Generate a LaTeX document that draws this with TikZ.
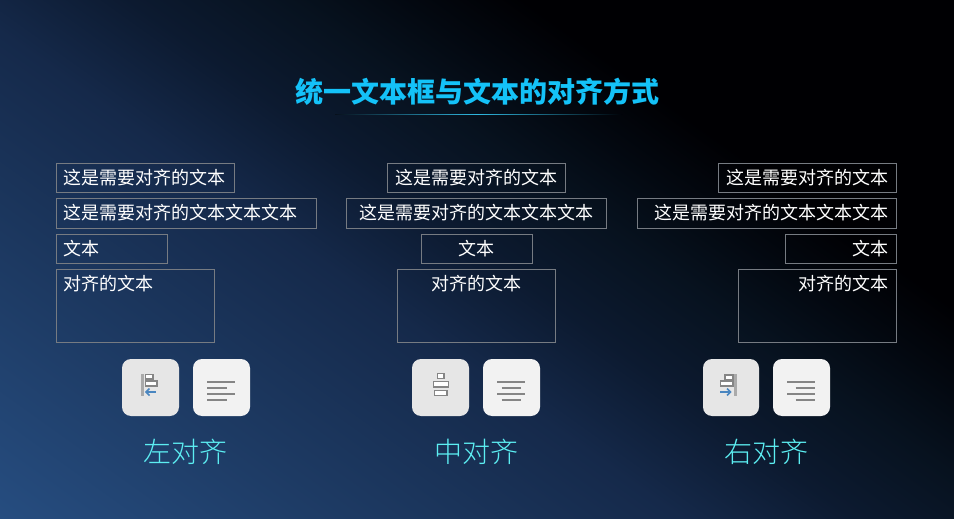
\documentclass[tikz,border=0pt]{standalone}
\usepackage{fontspec}
\setmainfont{Noto Sans CJK SC}
\newfontfamily\cjklight{Noto Sans CJK SC Light}
\newfontfamily\cjkbold{Noto Sans CJK SC Black}
\usetikzlibrary{calc}
\definecolor{c0}{HTML}{264D80}
\definecolor{c1}{HTML}{1E3C66}
\definecolor{c2}{HTML}{15294A}
\definecolor{c3}{HTML}{0C1A30}
\definecolor{c4}{HTML}{07121F}
\definecolor{c5}{HTML}{030810}
\definecolor{c6}{HTML}{000003}
\definecolor{boxline}{HTML}{767B82}
\definecolor{titlecol}{HTML}{14C2F8}
\definecolor{labelcol}{HTML}{5CEEF2}
\definecolor{iconcol}{HTML}{858585}
\definecolor{arrowcol}{HTML}{4A86C0}
\definecolor{ulcol}{HTML}{2FB8E0}
\definecolor{ulendl}{HTML}{07101C}
\definecolor{ulendr}{HTML}{000208}
\pgfdeclarehorizontalshading{bgshade}{100bp}{
 color(0bp)=(c0); color(50bp)=(c0); color(54.2bp)=(c1); color(59bp)=(c2); color(61.3bp)=(c3); color(63.4bp)=(c4); color(65bp)=(c5); color(66.5bp)=(c6); color(100bp)=(c6)}
\tikzset{
 x=1pt,y=-1pt,
 tbox/.style={draw=boxline,line width=0.9pt,inner sep=0pt},
 ttext/.style={text=white,inner sep=0pt,font=\fontsize{18}{18}\selectfont},
 iconline/.style={draw=iconcol,line width=2pt},
 iconrect/.style={draw=iconcol,line width=1.6pt,fill=white},
 iconbar/.style={draw=iconcol!70!white,line width=2.6pt},
 iconarrow/.style={draw=arrowcol,line width=1.6pt},
 grouplabel/.style={text=labelcol,inner sep=0pt,font=\fontsize{28}{28}\selectfont\cjklight},
}
% name, x1, y1, x2, y2
\newcommand{\tb}[5]{\node[tbox,minimum width=#4pt-#2pt,minimum height=#5pt-#3pt] (#1) at ({(#2+#4)/2},{(#3+#5)/2}) {};}
\begin{document}
\begin{tikzpicture}
\useasboundingbox (0,0) rectangle (954,519);
\begin{scope}
\clip (0,0) rectangle (954,519);
\shade[shading=bgshade,shading angle=54.46] (-1100,-581) rectangle (1100,1619);
\end{scope}

% title
\node[inner sep=0pt,text=titlecol,font=\fontsize{28}{28}\selectfont\cjkbold] (title) at (477,91.5) {统一文本框与文本的对齐方式};
\shade[left color=ulendl,right color=ulcol] (335,114.1) rectangle (477,114.9);
\shade[left color=ulcol,right color=ulendr] (477,114.1) rectangle (622,114.9);

% left column
\tb{l1}{56.5}{163.5}{234.5}{192.5}
\tb{l2}{56.5}{198.5}{316.5}{228.5}
\tb{l3}{56.5}{234.5}{167.5}{263.5}
\tb{l4}{56.5}{269.5}{214.5}{342.5}
\node[ttext,anchor=west] (lt1) at (63.5,177.5) {这是需要对齐的文本};
\node[ttext,anchor=west] (lt2) at (63.5,213) {这是需要对齐的文本文本文本};
\node[ttext,anchor=west] (lt3) at (63.5,249) {文本};
\node[ttext,anchor=west] (lt4) at (63.5,284) {对齐的文本};

% middle column
\tb{m1}{387.5}{163.5}{565.5}{192.5}
\tb{m2}{346.5}{198.5}{606.5}{228.5}
\tb{m3}{421.5}{234.5}{532.5}{263.5}
\tb{m4}{397.5}{269.5}{555.5}{342.5}
\node[ttext] (mt1) at (476,177.5) {这是需要对齐的文本};
\node[ttext] (mt2) at (476,213) {这是需要对齐的文本文本文本};
\node[ttext] (mt3) at (476,249) {文本};
\node[ttext] (mt4) at (476,284) {对齐的文本};

% right column
\tb{r1}{718.5}{163.5}{896.5}{192.5}
\tb{r2}{637.5}{198.5}{896.5}{228.5}
\tb{r3}{785.5}{234.5}{896.5}{263.5}
\tb{r4}{738.5}{269.5}{896.5}{342.5}
\node[ttext,anchor=east] (rt1) at (889,177.5) {这是需要对齐的文本};
\node[ttext,anchor=east] (rt2) at (889,213) {这是需要对齐的文本文本文本};
\node[ttext,anchor=east] (rt3) at (889,249) {文本};
\node[ttext,anchor=east] (rt4) at (889,284) {对齐的文本};

% buttons
\foreach \x/\w/\c in {122/57/E6E6E6,193/57/F2F2F2,412/57/E6E6E6,483/57/F2F2F2,703/56/E6E6E6,773/57/F2F2F2}{
 \definecolor{bc}{HTML}{\c}
 \fill[bc,rounded corners=9pt] (\x,359) rectangle +(\w,57);
}

% left icons
\draw[iconbar] (142.3,374) -- (142.3,396);
\draw[iconrect] (145.5,374.5) rectangle (153,379);
\draw[iconrect] (145.5,381) rectangle (157,386);
\draw[iconarrow] (155.5,392) -- (146,392);
\draw[iconarrow] (149.5,388.5) -- (146,392) -- (149.5,395.5);
\draw[iconline] (207,381.5) -- (235,381.5);
\draw[iconline] (207,387.5) -- (226.5,387.5);
\draw[iconline] (207,393.5) -- (235,393.5);
\draw[iconline] (207,399.5) -- (226.5,399.5);

% middle icons
\draw[iconrect] (437.5,373.5) rectangle (444,378.5);
\draw[iconrect] (433.5,381.5) rectangle (448.5,387);
\draw[iconrect] (434.5,390.5) rectangle (447,395.5);
\draw[iconline] (497,381.5) -- (525,381.5);
\draw[iconline] (501.5,387.5) -- (520.5,387.5);
\draw[iconline] (497,393.5) -- (525,393.5);
\draw[iconline] (501.5,399.5) -- (520.5,399.5);

% right icons
\draw[iconbar] (735.5,374) -- (735.5,396);
\draw[iconrect] (725,375) rectangle (733,379.5);
\draw[iconrect] (720.5,381) rectangle (733,386);
\draw[iconarrow] (720,392) -- (730.5,392);
\draw[iconarrow] (727,388.5) -- (730.5,392) -- (727,395.5);
\draw[iconline] (787,381.5) -- (815,381.5);
\draw[iconline] (795.5,387.5) -- (815,387.5);
\draw[iconline] (787,393.5) -- (815,393.5);
\draw[iconline] (795.5,399.5) -- (815,399.5);

% group labels
\node[grouplabel] (gl) at (185.5,452) {左对齐};
\node[grouplabel] (gm) at (476,452) {中对齐};
\node[grouplabel] (gr) at (766,452) {右对齐};
\end{tikzpicture}
\end{document}
